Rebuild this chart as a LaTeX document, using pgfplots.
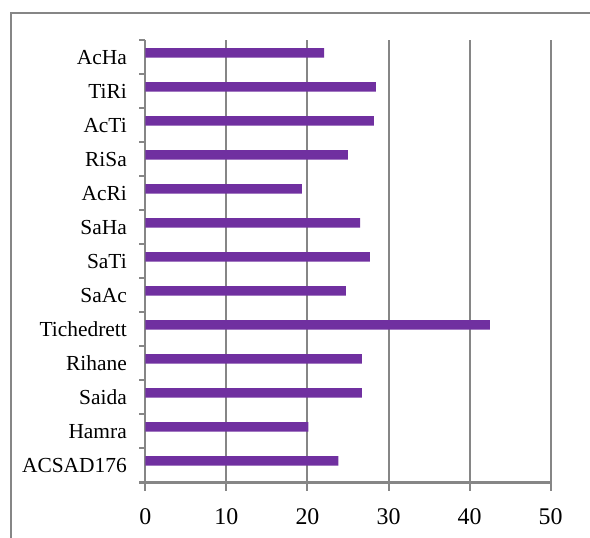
\documentclass[border=0pt]{standalone}
\usepackage{fontspec}
\setmainfont{Liberation Serif}
\usepackage{pgfplots}
\pgfplotsset{compat=1.18}
\definecolor{barpurple}{RGB}{112,48,160}
\definecolor{axisgray}{RGB}{134,134,134}
\begin{document}
\begin{tikzpicture}
\clip (0,0) rectangle (590bp,538bp);
% outer chart frame
\draw[axisgray, line width=1.5bp] (11bp,-10bp) -- (11bp,525bp) -- (600bp,525bp);
\begin{axis}[
  at={(145.3bp,55.5bp)}, anchor=south west,
  scale only axis, width=405.4bp, height=442bp,
  xbar, bar width=9.5bp, bar shift=4.7bp,
  xmin=0, xmax=50, ymin=-0.5, ymax=12.5,
  xtick={0,10,...,50},
  ytick={0,...,12},
  yticklabels={ACSAD176,Hamra,Saida,Rihane,Tichedrett,SaAc,SaTi,SaHa,AcRi,RiSa,AcTi,TiRi,AcHa},
  minor ytick={-0.5,0.5,...,12.5},
  axis x line*=bottom, axis y line*=left,
  tick align=outside,
  major tick length=8bp, minor tick length=6bp,
  major y tick style={draw=none},
  xmajorgrids,
  grid style={axisgray, line width=2bp},
  axis line style={axisgray, line width=2bp},
  tick style={axisgray, line width=2bp},
  /pgf/number format/assume math mode=true,
  xticklabel style={font=\fontsize{24}{28}\selectfont, yshift=-15bp},
  yticklabel style={font=\fontsize{21.5}{25}\selectfont, xshift=-7bp},
]
\addplot[fill=barpurple, draw=none] coordinates {
  (23.8,0) (20.1,1) (26.7,2) (26.7,3) (42.5,4) (24.75,5) (27.7,6)
  (26.5,7) (19.3,8) (25.0,9) (28.2,10) (28.45,11) (22.05,12)};
\end{axis}
\end{tikzpicture}
\end{document}
